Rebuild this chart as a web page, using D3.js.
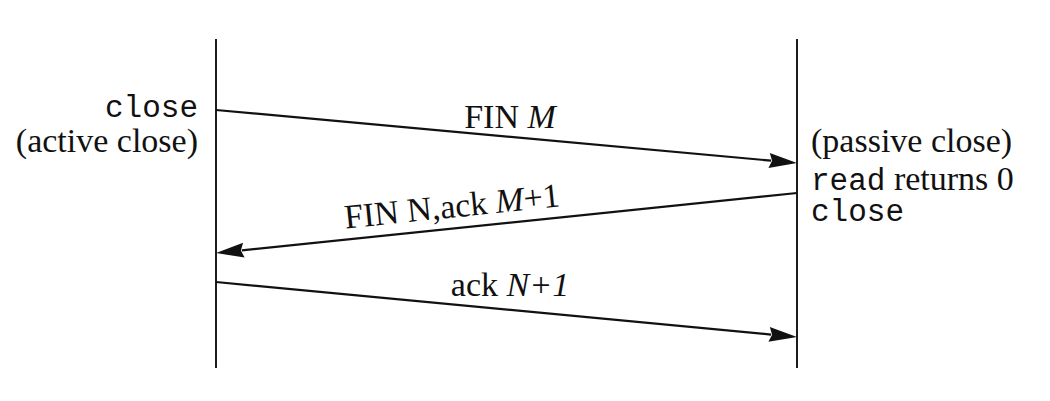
<!DOCTYPE html>
<html>
<head>
<meta charset="utf-8">
<script src="https://cdn.jsdelivr.net/npm/d3@7"></script>
<style>
  html, body { margin: 0; padding: 0; background: #fff; }
  svg { display: block; }
</style>
</head>
<body>
<svg id="chart" width="1050" height="401"></svg>
<script>
// ---- data ----
const hosts = ["client", "server"];
const lifeline = [0, 329];                 // time span of lifelines
const msgFrom = ["client", "server", "client"];
const msgTo   = ["server", "client", "server"];
const msgSend = [71, 154, 243];            // send time
const msgRecv = [124, 214, 298];           // receive time
const msgLabels = [
  [["FIN ", false], ["M", true]],
  [["FIN N", false], [",", false], ["ack ", false], ["M", true], ["+1", false]],
  [["ack ", false], ["N+1", true]]
];
const leftNotes  = [ {t: 78, parts: [["close", "mono"]]},
                     {t: 113, parts: [["(active close)", "serif"]]} ];
const rightNotes = [ {t: 113, parts: [["(passive close)", "serif"]]},
                     {t: 151, parts: [["read", "mono"], [" returns 0", "serif"]]},
                     {t: 182, parts: [["close", "mono"]]} ];

// ---- layout / style ----
const serif = "'Liberation Serif', 'Times New Roman', serif";
const mono = "'Liberation Mono', 'Courier New', monospace";
const fontSize = 34;
const monoSize = 31;
const labelPos = [0.506, 0.59, 0.506];     // fraction along arrow (from sender)
const labelGap = [9, 11, 14];              // px above the arrow
const labelRotate = [false, true, false];

const svg = d3.select("#chart");
const x = d3.scalePoint().domain(hosts).range([216, 797]);
const y = d3.scaleLinear().domain([0, 329]).range([39, 368]);

// lifelines
svg.selectAll("line.life").data(hosts).join("line")
  .attr("class", "life")
  .attr("x1", d => x(d)).attr("x2", d => x(d))
  .attr("y1", y(lifeline[0])).attr("y2", y(lifeline[1]))
  .attr("stroke", "#111").attr("stroke-width", 1.9);

// messages
const msgs = msgFrom.map((f, i) => ({
  x1: x(f), y1: y(msgSend[i]), x2: x(msgTo[i]), y2: y(msgRecv[i]), i
}));

const headLen = 28, headHalf = 7.5;
msgs.forEach(m => {
  const dx = m.x2 - m.x1, dy = m.y2 - m.y1;
  const len = Math.hypot(dx, dy);
  const ux = dx / len, uy = dy / len;
  const bx = m.x2 - ux * headLen, by = m.y2 - uy * headLen;
  svg.append("line")
    .attr("x1", m.x1).attr("y1", m.y1)
    .attr("x2", bx + ux * 2).attr("y2", by + uy * 2)
    .attr("stroke", "#111").attr("stroke-width", 2.2);
  const pts = [[m.x2, m.y2],
               [bx - uy * headHalf, by + ux * headHalf],
               [bx + ux * 3, by + uy * 3],
               [bx + uy * headHalf, by - ux * headHalf]];
  svg.append("path")
    .attr("d", d3.line()(pts) + "Z")
    .attr("fill", "#111");

  // label
  const f = labelPos[m.i];
  const lx = m.x1 + dx * f, ly = m.y1 + dy * f;
  let ang = Math.atan2(dy, dx) * 180 / Math.PI;
  if (ang > 90) ang -= 180;
  if (ang < -90) ang += 180;
  const g = svg.append("g")
    .attr("transform", `translate(${lx},${ly}) rotate(${labelRotate[m.i] ? ang : 0})`);
  const t = g.append("text")
    .attr("x", 0).attr("y", -labelGap[m.i])
    .attr("text-anchor", "middle")
    .attr("font-family", serif).attr("font-size", fontSize)
    .attr("fill", "#111");
  msgLabels[m.i].forEach(([s, it]) => {
    t.append("tspan").text(s).attr("font-style", it ? "italic" : "normal");
  });
});

// notes
function notes(list, xpos, anchor) {
  list.forEach(n => {
    const t = svg.append("text")
      .attr("x", xpos).attr("y", y(n.t))
      .attr("text-anchor", anchor)
      .attr("font-size", fontSize)
      .attr("fill", "#111")
      .attr("xml:space", "preserve")
      .style("white-space", "pre");
    n.parts.forEach(([s, kind]) => {
      t.append("tspan").text(s)
        .attr("font-family", kind === "mono" ? mono : serif)
        .attr("font-size", kind === "mono" ? monoSize : fontSize);
    });
  });
}
notes(leftNotes, x("client") - 18, "end");
notes(rightNotes, x("server") + 14, "start");
</script>
</body>
</html>
